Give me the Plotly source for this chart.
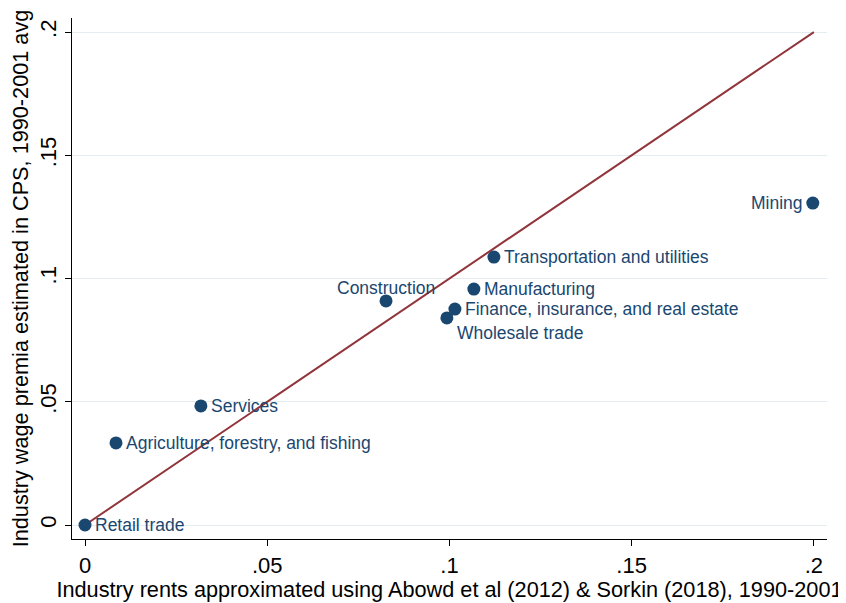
import plotly.graph_objects as go

industries = ["Retail trade", "Agriculture, forestry, and fishing", "Services", "Construction",
              "Wholesale trade", "Finance, insurance, and real estate", "Manufacturing",
              "Transportation and utilities", "Mining"]
rents = [0.0, 0.0085, 0.0318, 0.0826, 0.0993, 0.1015, 0.1067, 0.1122, 0.1997]
premia = [0.0, 0.0333, 0.0483, 0.0909, 0.0840, 0.0876, 0.0957, 0.1087, 0.1306]
label_pos = ["right", "right", "right", "top", "below", "right", "right", "right", "left"]

line_x = [0, 0.2]
line_y = [0, 0.2]

tick_vals = [0, 0.05, 0.1, 0.15, 0.2]
tick_text = ["0", ".05", ".1", ".15", ".2"]

navy = "#1a476f"
maroon = "#90353b"
font = "Liberation Sans, Arial, sans-serif"

fig = go.Figure()
fig.add_trace(go.Scatter(x=line_x, y=line_y, mode="lines",
                         line=dict(color=maroon, width=2), hoverinfo="skip"))
fig.add_trace(go.Scatter(x=rents, y=premia, mode="markers",
                         marker=dict(color=navy, size=13), text=industries))

pos_style = {
    "right": dict(xanchor="left", yanchor="middle", xshift=8, yshift=0),
    "left": dict(xanchor="right", yanchor="middle", xshift=-8, yshift=0),
    "top": dict(xanchor="center", yanchor="middle", xshift=0, yshift=13),
    "below": dict(xanchor="left", yanchor="middle", xshift=8, yshift=-15),
}
for name, xv, yv, p in zip(industries, rents, premia, label_pos):
    fig.add_annotation(x=xv, y=yv, text=name, showarrow=False,
                       font=dict(family=font, size=17.5, color=navy), **pos_style[p])

axis_common = dict(showline=True, linecolor="black", linewidth=1.2, ticks="outside",
                   ticklen=6, tickcolor="black", tickvals=tick_vals, ticktext=tick_text,
                   tickfont=dict(family=font, size=22, color="black"), zeroline=False,
                   mirror=False)

fig.update_layout(
    width=846, height=603,
    margin=dict(l=64, r=27, t=10, b=72),
    paper_bgcolor="white", plot_bgcolor="white",
    showlegend=False,
    xaxis=dict(range=[-0.00357, 0.2036], showgrid=False,
               title=dict(text="Industry rents approximated using Abowd et al (2012) & Sorkin (2018), 1990-2001",
                          font=dict(family=font, size=21.7, color="black"), standoff=2),
               **axis_common),
    yaxis=dict(range=[-0.00568, 0.2057], showgrid=True, gridcolor="#e4ecf0", gridwidth=1.3,
               tickangle=-90,
               title=dict(text="Industry wage premia estimated in CPS, 1990-2001 avg",
                          font=dict(family=font, size=21.7, color="black"), standoff=2),
               **axis_common),
)

fig.write_html("out.html")
